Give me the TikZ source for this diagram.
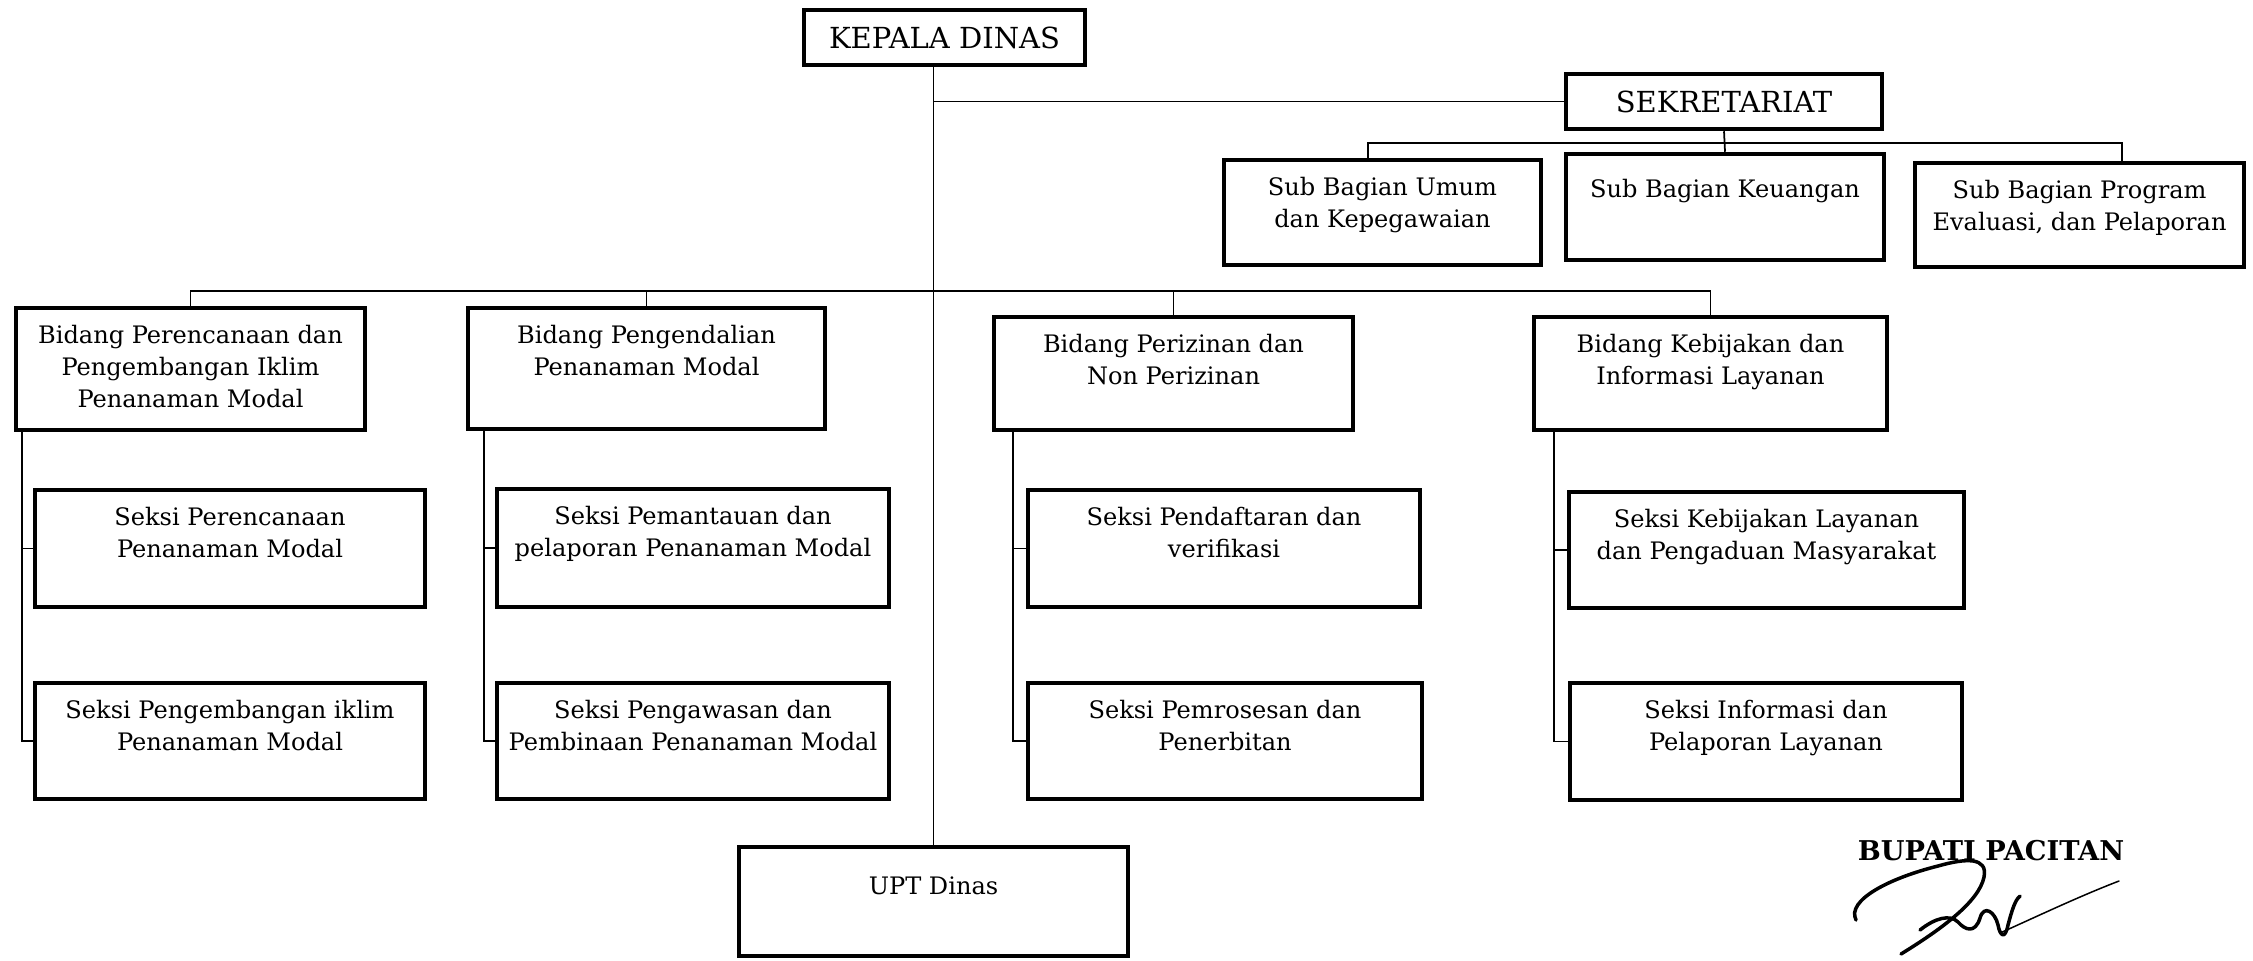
\documentclass[tikz,border=0pt]{standalone}
\usepackage{fontspec}
\setmainfont{DejaVu Serif}
\usepackage{tikz}
\usetikzlibrary{calc}
\newlength{\px}
\setlength{\px}{0.02cm}
\newcommand{\BoxText}[4][17]{\parbox[c][#3\px][t]{#2\px}{\centering\vspace*{#1\px}#4}}
\newcommand{\HeadText}[3]{\parbox[c][#2\px][c]{#1\px}{\centering #3}}
\tikzstyle{OrgBox}=[rectangle, draw=black, line width=0.09cm, inner sep=0pt, font=\fontsize{13.7}{18.4}\selectfont]
\tikzstyle{HeadBox}=[OrgBox, font=\fontsize{16.5}{19}\selectfont]
\tikzstyle{OrgLine}=[line width=0.035cm]
\tikzstyle{SignLine}=[line width=0.07cm, line cap=round, line join=round]

\begin{document}
\begin{tikzpicture}[x=0.02cm, y=-0.02cm]
\useasboundingbox (0,0) rectangle (2253,960);

\node[HeadBox](KD) at (944.5,37.5) {\HeadText{281}{55}{KEPALA DINAS}};
\node[HeadBox](SEK) at (1724,101.5) {\HeadText{316}{55}{SEKRETARIAT}};

\node[OrgBox](SUB1) at (1382.5,212.5) {\BoxText{317}{105}{Sub Bagian Umum\\dan Kepegawaian}};
\node[OrgBox](SUB2) at (1725,207) {\BoxText[25]{318}{106}{Sub Bagian Keuangan}};
\node[OrgBox](SUB3) at (2079.5,215) {\BoxText{329}{104}{Sub Bagian Program\\Evaluasi, dan Pelaporan}};

\node[OrgBox](BID1) at (190.5,369) {\BoxText{349}{122}{Bidang Perencanaan dan\\Pengembangan Iklim\\Penanaman Modal}};
\node[OrgBox](BID2) at (646.5,368.5) {\BoxText{357}{121}{Bidang Pengendalian\\Penanaman Modal}};
\node[OrgBox](BID3) at (1173.5,373.5) {\BoxText{359}{113}{Bidang Perizinan dan\\Non Perizinan}};
\node[OrgBox](BID4) at (1710.5,373.5) {\BoxText{353}{113}{Bidang Kebijakan dan\\Informasi Layanan}};

\node[OrgBox](SEKSI1A) at (230,548.5) {\BoxText{390}{117}{Seksi Perencanaan\\Penanaman Modal}};
\node[OrgBox](SEKSI1B) at (230,741) {\BoxText{390}{116}{Seksi Pengembangan iklim\\Penanaman Modal}};
\node[OrgBox](SEKSI2A) at (693,548) {\BoxText{392}{118}{Seksi Pemantauan dan\\pelaporan Penanaman Modal}};
\node[OrgBox](SEKSI2B) at (693,741) {\BoxText{392}{116}{Seksi Pengawasan dan\\Pembinaan Penanaman Modal}};
\node[OrgBox](SEKSI3A) at (1224,548.5) {\BoxText{392}{117}{Seksi Pendaftaran dan\\verifikasi}};
\node[OrgBox](SEKSI3B) at (1225,741) {\BoxText{394}{116}{Seksi Pemrosesan dan\\Penerbitan}};
\node[OrgBox](SEKSI4A) at (1766.5,550) {\BoxText{395}{116}{Seksi Kebijakan Layanan\\dan Pengaduan Masyarakat}};
\node[OrgBox](SEKSI4B) at (1766,741.5) {\BoxText{392}{117}{Seksi Informasi dan\\Pelaporan Layanan}};

\node[OrgBox](UPT) at (933.5,901.5) {\BoxText[30]{389}{109}{UPT Dinas}};

\node[font=\bfseries\fontsize{15.5}{17}\selectfont](BUPATI) at (1991,851) {BUPATI PACITAN};

\draw[OrgLine](UPT.north) -- (UPT.north |- KD.south);
\draw[OrgLine](UPT.north |- SEK.west) -- (SEK.west);
\draw[OrgLine](SEK.south) -- (SUB2.north);

\coordinate (SubBusL) at (1368,143);
\coordinate (SubBusR) at (2122,143);
\draw[OrgLine](SubBusL |- SUB1.north) -- (SubBusL) -- (SubBusR) -- (SubBusR |- SUB3.north);

\coordinate (BidBus) at (0,291);
\draw[OrgLine](BID1.north) -- (BID1.north |- BidBus) -- (BID4.north |- BidBus) -- (BID4.north);
\draw[OrgLine](BID2.north) -- (BID2.north |- BidBus);
\draw[OrgLine](BID3.north) -- (BID3.north |- BidBus);

\coordinate (Spine1) at ($(BID1.south west)+(8,0)$);
\coordinate (Spine2) at ($(BID2.south west)+(18,0)$);
\coordinate (Spine3) at ($(BID3.south west)+(21,0)$);
\coordinate (Spine4) at ($(BID4.south west)+(22,0)$);
\draw[OrgLine](Spine1) |- (SEKSI1B.west);
\draw[OrgLine](Spine1 |- SEKSI1A.west) -- (SEKSI1A.west);
\draw[OrgLine](Spine2) |- (SEKSI2B.west);
\draw[OrgLine](Spine2 |- SEKSI2A.west) -- (SEKSI2A.west);
\draw[OrgLine](Spine3) |- (SEKSI3B.west);
\draw[OrgLine](Spine3 |- SEKSI3A.west) -- (SEKSI3A.west);
\draw[OrgLine](Spine4) |- (SEKSI4B.west);
\draw[OrgLine](Spine4 |- SEKSI4A.west) -- (SEKSI4A.west);

\draw[SignLine](1856,920) .. controls (1846,900) and (1890,878) .. (1938,866) .. controls (1966,858) and (1988,857) .. (1984,877) .. controls (1979,902) and (1940,930) .. (1901,954);
\draw[SignLine](1920,930) .. controls (1935,918) and (1950,914) .. (1958,922) .. controls (1965,930) and (1975,934) .. (1980,918) .. controls (1984,904) and (1995,912) .. (1998,925) .. controls (2000,936) and (2005,940) .. (2008,925) .. controls (2012,910) and (2015,900) .. (2020,896);
\draw[line width=0.03cm, line cap=round](2000,933) .. controls (2040,915) and (2080,896) .. (2119,881);
\end{tikzpicture}
\end{document}
